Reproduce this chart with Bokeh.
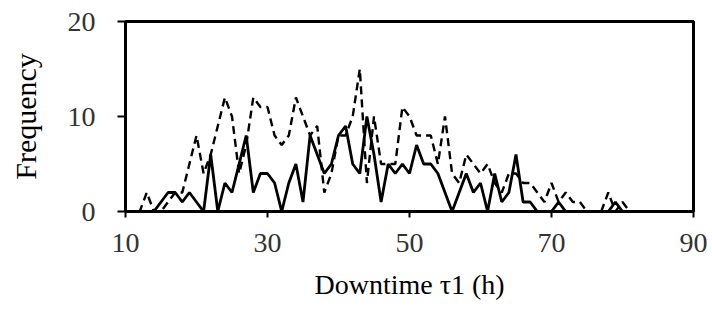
from bokeh.plotting import figure
from bokeh.models import Range1d, FixedTicker
from bokeh.embed import file_html
from bokeh.resources import INLINE

# Downtime (h)
hours = list(range(10, 86))

# Frequency, solid series
solid = [0, 0, 0, 0, 0, 1, 2, 2, 1, 2,      # 10-19
         1, 0, 6, 0, 3, 2, 5, 8, 2, 4,      # 20-29
         4, 3, 0, 3, 5, 1, 8, 6, 4, 5,      # 30-39
         8, 9, 5, 4, 10, 6, 1, 5, 4, 5,     # 40-49
         4, 7, 5, 5, 4, 2, 0, 2, 4, 2,      # 50-59
         3, 0, 4, 1, 2, 6, 1, 1, 0, 0,      # 60-69
         0, 1, 0, 0, 0, 0, 0, 0, 0, 1,      # 70-79
         0, 0, 0, 0, 0, 0]                  # 80-85

# Frequency, dashed series
dashed = [0, 0, 0, 2, 0, 0, 1, 2, 2, 5,     # 10-19
          8, 4, 6, 9, 12, 10, 4, 7, 12, 11, # 20-29
          11, 8, 7, 8, 12, 10, 8, 9, 2, 4,  # 30-39
          8, 8, 10, 15, 3, 10, 5, 5, 5, 11, # 40-49
          10, 8, 8, 8, 5, 10, 4, 3, 6, 5,   # 50-59
          4, 5, 3, 2, 4, 4, 3, 3, 2, 1,     # 60-69
          3, 1, 2, 1, 1, 0, 0, 0, 2, 0,     # 70-79
          1, 0, 0, 0, 0, 0]                 # 80-85

x_ticks = [10, 30, 50, 70, 90]
y_ticks = [0, 10, 20]

FONT = "Liberation Serif"

p = figure(width=712, height=335, output_backend="svg", toolbar_location=None,
           x_range=Range1d(10, 90), y_range=Range1d(0, 20),
           min_border_left=125, min_border_right=19, min_border_top=21,
           min_border_bottom=124)

p.line(hours, dashed, line_color="black", line_width=2.4, line_dash="8 5")
p.line(hours, solid, line_color="black", line_width=2.8)

p.xgrid.visible = False
p.ygrid.visible = False
p.outline_line_color = "black"
p.outline_line_width = 3
p.background_fill_color = "white"
p.border_fill_color = "white"

for ax in (p.xaxis[0], p.yaxis[0]):
    ax.axis_line_width = 3
    ax.axis_line_color = "black"
    ax.major_tick_line_width = 2
    ax.major_tick_line_color = "black"
    ax.major_tick_in = 0
    ax.minor_tick_line_color = None
    ax.major_label_text_font = FONT
    ax.major_label_text_font_size = "28px"
    ax.major_label_text_color = "#333333"
    ax.axis_label_text_font = FONT
    ax.axis_label_text_font_style = "normal"
    ax.axis_label_text_color = "black"

p.xaxis.ticker = FixedTicker(ticks=x_ticks)
p.yaxis.ticker = FixedTicker(ticks=y_ticks)
p.xaxis.major_tick_out = 6
p.yaxis.major_tick_out = 8
p.xaxis.major_label_standoff = 16
p.yaxis.major_label_standoff = 22
p.xaxis.axis_label = "Downtime τ1 (h)"
p.yaxis.axis_label = "Frequency"
p.xaxis.axis_label_text_font_size = "28px"
p.yaxis.axis_label_text_font_size = "30px"
p.xaxis.axis_label_standoff = 14
p.yaxis.axis_label_standoff = 23

open("out.html", "w").write(file_html(p, INLINE))
